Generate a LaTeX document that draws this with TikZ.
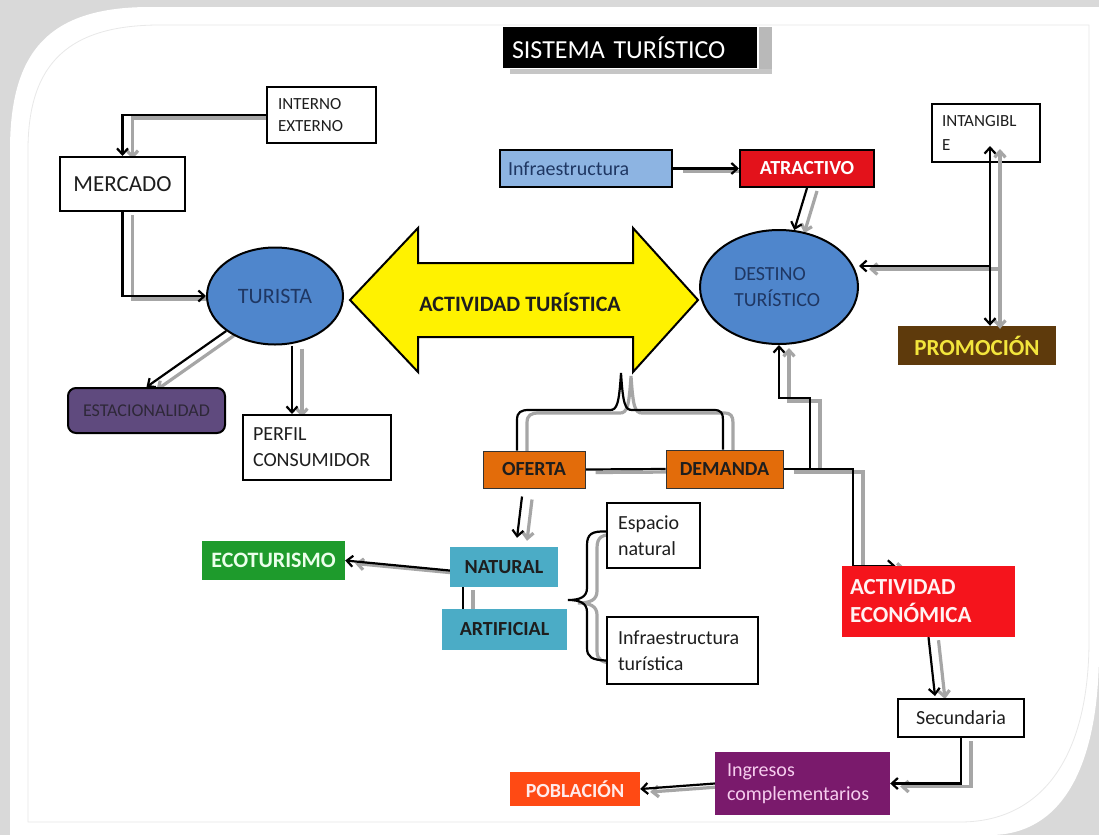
\documentclass[tikz,border=0pt]{standalone}
\usepackage{fontspec}
\setmainfont{Carlito}
\usetikzlibrary{arrows.meta,calc,shapes.geometric}
\pgfdeclarelayer{bg}
\pgfdeclarelayer{conns}
\pgfsetlayers{bg,conns,main}
\definecolor{ellblue}{HTML}{4F86CC}
\definecolor{navy}{HTML}{1F3763}
\definecolor{infrablue}{HTML}{8DB4E2}
\definecolor{atred}{HTML}{E3121B}
\definecolor{ecored}{HTML}{F5141C}
\definecolor{brownp}{HTML}{5E3A0C}
\definecolor{yelt}{HTML}{F2E53C}
\definecolor{estpurp}{HTML}{5F4A7E}
\definecolor{esttext}{HTML}{2E2838}
\definecolor{orng}{HTML}{E36C0A}
\definecolor{teal}{HTML}{4BACC6}
\definecolor{ecogreen}{HTML}{1E9B2C}
\definecolor{ingpurp}{HTML}{7A1A6C}
\definecolor{ingtext}{HTML}{F6CDEE}
\definecolor{pobred}{HTML}{FF4A14}
\definecolor{tdark}{HTML}{1E1E1E}
\definecolor{shgray}{HTML}{A6A6A6}
\definecolor{framegray}{HTML}{D9D9D9}
\tikzset{
  fs/.style 2 args={node font=\fontsize{#1}{#2}\selectfont},
  wbox/.style={draw=black, line width=2pt, fill=white, inner sep=0pt, text=tdark},
  cbox/.style={inner sep=0pt, font=\bfseries},
  conn/.style={draw=black, line width=2.2pt, -{Straight Barb[length=6pt,width=11pt]},
    preaction={draw=shgray, line width=3.2pt, transform canvas={xshift=10pt,yshift=-3pt}}},
  dconn/.style={conn, {Straight Barb[length=6pt,width=11pt]}-{Straight Barb[length=6pt,width=11pt]}},
  pline/.style={draw=black, line width=2.2pt,
    preaction={draw=shgray, line width=3.2pt, transform canvas={xshift=10pt,yshift=-3pt}}},
}
\begin{document}
\begin{tikzpicture}[x=1pt,y=-1pt]
\useasboundingbox (0,0) rectangle (1099,835);
\begin{pgfonlayer}{bg}
  \fill[framegray] (0,0) rectangle (1099,835);
  \fill[white] (10,835) -- (10,150) .. controls (10,50) and (50,7) .. (150,7) -- (1099,7) -- (1099,650) .. controls (1099,770) and (1060,835) .. (990,835) -- cycle;
  \draw[gray!18, line width=0.8pt] (28,822) -- (28,150) .. controls (28,62) and (70,25) .. (160,25) -- (1089,25) -- (1089,640) .. controls (1089,760) and (1040,822) .. (960,822) -- cycle;
  \fill[gray!55] (759,27) rectangle (772,74);
  \fill[gray!45] (510,69) rectangle (772,74);
\end{pgfonlayer}

% title
\node[fill=black, text=white, inner sep=0pt, inner xsep=9pt, text width=236pt, align=left, minimum height=41pt, fs={26}{30}] (title) at (630,47.5) {SISTEMA TURÍSTICO};

% left side
\node[wbox, fs={17}{22}, text width=87pt, inner xsep=11pt, align=left, minimum height=56pt] (interext) at (321.5,115) {INTERNO\\EXTERNO};
\node[wbox, fs={23}{28}, minimum width=125pt, minimum height=54pt] (mercado) at (122.5,184) {MERCADO};
\node[ellipse, draw=black, line width=2pt, fill=ellblue, text=navy, fs={22}{26}, minimum width=136pt, minimum height=97pt, inner sep=0pt] (turista) at (275,296) {TURISTA};
\node[rounded corners=8pt, draw=black, line width=2pt, fill=estpurp, text=esttext, fs={18}{20}, minimum width=157pt, minimum height=45pt, inner sep=0pt] (estac) at (146.5,410.5) {ESTACIONALIDAD};
\node[wbox, fs={20}{26}, text width=128pt, inner xsep=10pt, align=left, minimum height=65pt] (perfil) at (317,447.5) {PERFIL\\CONSUMIDOR};

% central double arrow
\draw[fill=yellow, line width=2pt, line join=miter] (350,300) -- (418,228) -- (418,263) -- (633,263) -- (633,228) -- (698,300) -- (633,372) -- (633,337) -- (418,337) -- (418,372) -- cycle;
\node[cbox, text=tdark, fs={22}{26}] (actur) at (520,302) {ACTIVIDAD TURÍSTICA};

% right side
\node[ellipse, draw=black, line width=2pt, fill=ellblue, text=navy, fs={20}{26}, minimum width=158pt, minimum height=114pt, inner sep=0pt, text width=90pt, align=left] (destino) at (779,287) {DESTINO\\TURÍSTICO};
\node[draw=black, line width=2pt, fill=infrablue, text=navy, fs={20}{24}, minimum width=172pt, minimum height=37pt, inner sep=0pt, text width=156pt, inner xsep=8pt, align=left] (infra) at (586,168.5) {Infraestructura};
\node[cbox, draw=black, line width=2pt, fill=atred, text=white, fs={20}{24}, minimum width=134pt, minimum height=37pt] (atract) at (807,168.5) {ATRACTIVO};
\node[wbox, fs={17}{24}, text width=88pt, inner xsep=10pt, align=left, minimum height=58pt] (intang) at (986,133) {INTANGIBL\\E};
\node[cbox, fill=brownp, text=yelt, fs={23}{28}, minimum width=158pt, minimum height=39pt] (promo) at (977,345.5) {PROMOCIÓN};

% middle bottom
\node[cbox, draw=black!80, line width=1pt, fill=orng, text=tdark, fs={20}{24}, minimum width=102pt, minimum height=37pt] (oferta) at (534,469.5) {OFERTA};
\node[cbox, draw=black!80, line width=1pt, fill=orng, text=tdark, fs={20}{24}, minimum width=117pt, minimum height=38pt] (demanda) at (724.5,469) {DEMANDA};
\node[cbox, fill=teal, text=tdark, fs={20}{24}, minimum width=108pt, minimum height=40pt] (natural) at (504,567) {NATURAL};
\node[cbox, fill=teal, text=tdark, fs={20}{24}, minimum width=125pt, minimum height=41pt] (artificial) at (504.5,629.5) {ARTIFICIAL};
\node[cbox, fill=ecogreen, text=green!8, fs={22}{26}, minimum width=143pt, minimum height=39pt] (ecotur) at (273.5,560.5) {ECOTURISMO};
\node[wbox, fs={20}{26}, text width=71pt, inner xsep=11pt, align=left, minimum height=65pt] (espacio) at (653.5,535.5) {Espacio\\natural};
\node[wbox, fs={20}{26}, text width=129pt, inner xsep=11pt, align=left, minimum height=67pt] (infratur) at (682.5,650.5) {Infraestructura\\turística};

% bottom right
\node[cbox, fill=ecored, text=red!5, fs={23}{28}, text width=157pt, inner xsep=8pt, align=left, minimum height=71pt] (acteco) at (928.5,601.5) {ACTIVIDAD\\ECONÓMICA};
\node[wbox, fs={20}{24}, minimum width=126pt, minimum height=38pt] (secund) at (961,718) {Secundaria};
\node[fill=ingpurp, text=ingtext, fs={20}{24}, text width=151pt, inner xsep=12pt, inner ysep=0pt, align=left, minimum height=63pt] (ingresos) at (802.5,783.5) {Ingresos\\complementarios};
\node[cbox, fill=pobred, text=white!92!red, fs={20}{24}, minimum width=130pt, minimum height=34pt] (poblacion) at (575,789) {POBLACIÓN};

% coordinates
\coordinate (jn) at (990,266);
\coordinate (k1) at (810,398);
\coordinate (bpeak) at (621,373);
\coordinate (btip) at (568,600);

\begin{pgfonlayer}{conns}
  \draw[conn] (interext.west) -| (mercado.north);
  \draw[conn] (mercado.south) |- (turista.west);
  \draw[conn] (turista.south west) -- (estac.north);
  \draw[conn] ([xshift=17pt]turista.south) -- ([xshift=17pt]turista.south |- perfil.north);
  \draw[conn] (infra.east) -- (atract.west);
  \draw[conn] (atract.south) -- (destino.75);
  \draw[conn] (jn) -- (jn -| destino.east);
  \draw[pline] (oferta.east) -- (demanda.west);
  \draw[conn] (demanda.east) -| (k1) -| (destino.south);
  \draw[conn] (demanda.east) -| ([xshift=-75.5pt]acteco.north) -- ([xshift=-33pt]acteco.north);
  \draw[pline] ($(oferta.north)+(-17,0)$) -- (517,420) .. controls (517,412) and (521,410) .. (529,410) -- (610,410) .. controls (617,410) and (619,404) .. (bpeak) .. controls (623,404) and (625,410) .. (632,410) -- (714,410) .. controls (721,410) and (723,413) .. (723,420) -- ($(demanda.north)+(-1.5,0)$);
  \draw[conn] ($(oferta.south)+(-12,8)$) -- ($(natural.north)+(13,-9)$);
  \draw[conn] ($(natural.west)+(5,4)$) -- (ecotur.east);
  \draw[pline] ($(natural.south)+(-41,0)$) -- ($(artificial.north)+(-41.5,0)$);
  \draw[pline] ($(espacio.west)+(0,-4)$) .. controls (592,531) and (587,534) .. (587,545) -- (587,588) .. controls (587,597) and (580,600) .. (btip) .. controls (580,600) and (587,603) .. (587,612) -- (587,648) .. controls (587,657) and (592,660) .. ($(infratur.west)+(0,10)$);
  \draw[conn] (acteco.south) -- ($(secund.north)+(-26,-2)$);
  \draw[conn] (secund.south) |- (ingresos.east);
  \draw[conn] (ingresos.west) -- (poblacion.east);
\end{pgfonlayer}
% drawn on top: its upper tip lies inside INTANGIBLE
\draw[dconn] ($(intang.south -| jn)+(0,-17)$) -- (promo.north -| jn);
\end{tikzpicture}
\end{document}
